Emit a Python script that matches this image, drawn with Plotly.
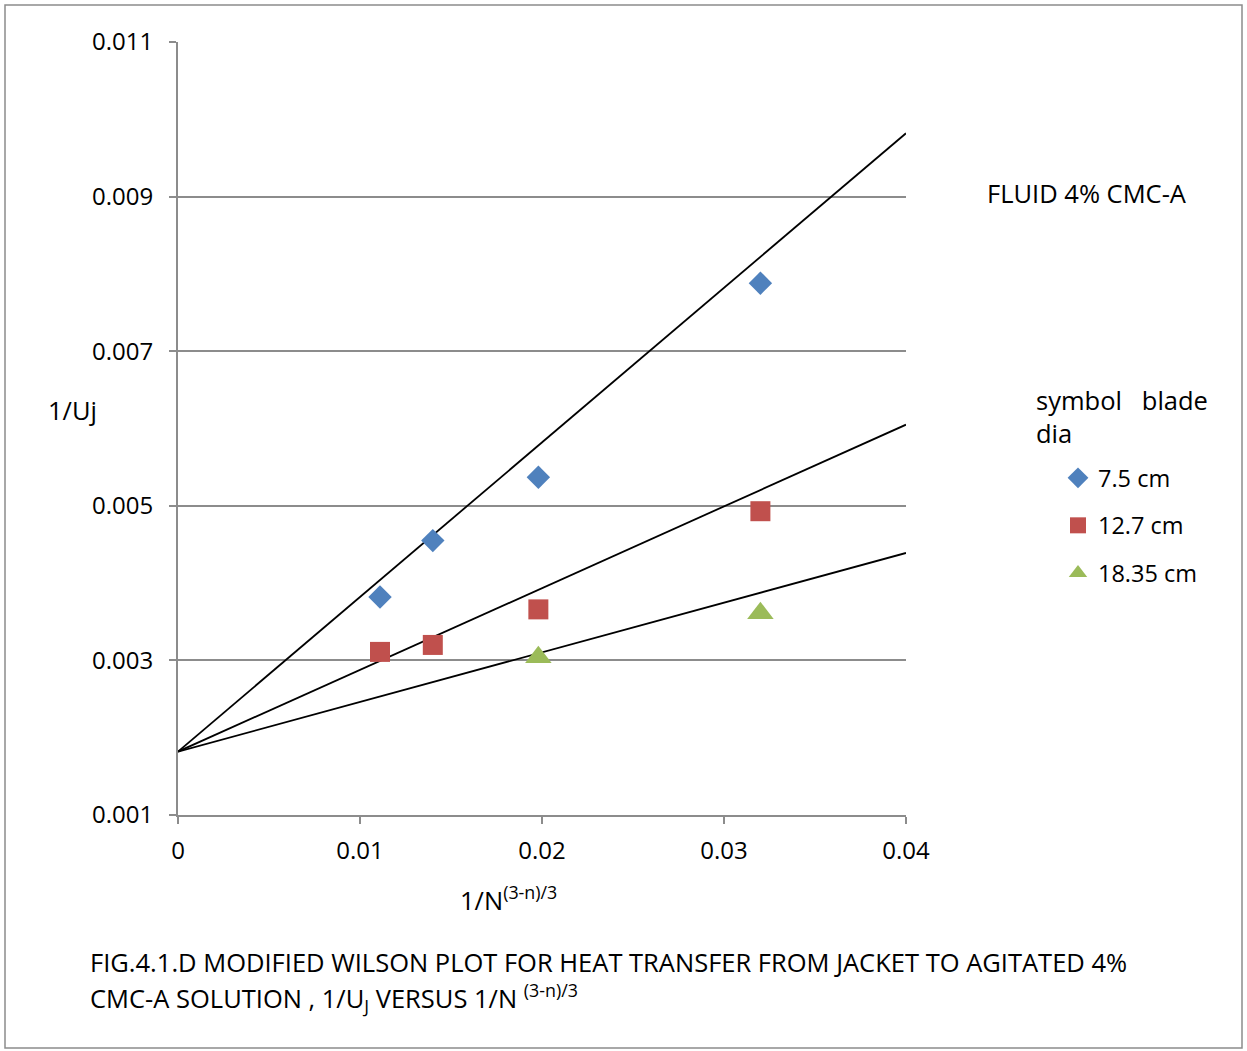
import plotly.graph_objects as go

# Modified Wilson plot: 1/Uj against 1/N^((3-n)/3), 4% CMC-A solution
blade_dia = ["7.5 cm", "12.7 cm", "18.35 cm"]

x_75 = [0.0111, 0.0140, 0.0198, 0.0320]
y_75 = [0.00382, 0.00455, 0.00537, 0.00788]

x_127 = [0.0111, 0.0140, 0.0198, 0.0320]
y_127 = [0.00311, 0.00320, 0.00366, 0.00493]

x_1835 = [0.0198, 0.0320]
y_1835 = [0.00304, 0.00361]

# straight-line fits, common intercept at x = 0, evaluated at x = 0.04
fit_x = [0.0, 0.04]
fit_intercept = 0.00182
fit_end = [0.00982, 0.00605, 0.00439]

x_ticks = [0, 0.01, 0.02, 0.03, 0.04]
x_tick_text = ["0", "0.01", "0.02", "0.03", "0.04"]
y_ticks = [0.001, 0.003, 0.005, 0.007, 0.009, 0.011]
y_tick_text = ["0.001", "0.003", "0.005", "0.007", "0.009", "0.011"]

caption_lines = [
    "FIG.4.1.D MODIFIED WILSON PLOT FOR HEAT TRANSFER FROM JACKET TO AGITATED 4%",
    "CMC-A SOLUTION , 1/U<sub>J</sub> VERSUS 1/N <sup>(3-n)/3</sup>",
]

colors = ["#4F81BD", "#C0504D", "#9BBB59"]
symbols = ["diamond", "square", "triangle-up"]
sizes = [18, 20, 23]

FONT = "'Open Sans', Lato, sans-serif"
FS_TICK = 24
FS_LEG = 23.5
FS_TEXT = 25.5
W, H = 1247, 1051
L, R, T, B = 178, 906, 42, 815

fig = go.Figure()

for end in fit_end:
    fig.add_trace(go.Scatter(
        x=fit_x, y=[fit_intercept, end], mode="lines",
        line=dict(color="black", width=1.8), showlegend=False, hoverinfo="skip"))

series = [(x_75, y_75), (x_127, y_127), (x_1835, y_1835)]
for i, (xs, ys) in enumerate(series):
    fig.add_trace(go.Scatter(
        x=xs, y=ys, mode="markers", name=blade_dia[i], legendgroup=str(i),
        marker=dict(symbol=symbols[i], size=sizes[i], color=colors[i],
                    line=dict(width=0))))

grid = "#8c8c8c"
fig.update_xaxes(range=[0, 0.04], tickvals=x_ticks, ticktext=x_tick_text,
                 showgrid=False, zeroline=False, showline=True, linecolor=grid,
                 linewidth=2, ticks="outside", ticklen=7, tickcolor=grid,
                 tickwidth=2, ticklabelstandoff=6,
                 tickfont=dict(size=FS_TICK, color="black", family=FONT))
fig.update_yaxes(range=[0.001, 0.011], tickvals=y_ticks, ticktext=y_tick_text,
                 showgrid=True, gridcolor=grid, gridwidth=2, zeroline=False,
                 showline=True, linecolor=grid, linewidth=2, ticks="outside",
                 ticklen=7, tickcolor=grid, tickwidth=2, ticklabelstandoff=11,
                 tickfont=dict(size=FS_TICK, color="black", family=FONT))


def px(x):
    return (x - L) / (R - L)


def py(y):
    return (B - y) / (B - T)


annotations = [
    dict(text="FLUID 4% CMC-A", x=px(985), y=py(193), xanchor="left", yanchor="middle"),
    dict(text="symbol   blade<br>dia", x=px(1034), y=py(416), xanchor="left",
         yanchor="middle", align="left"),
    dict(text="1/Uj", x=px(46), y=py(410), xanchor="left", yanchor="middle"),
    dict(text="1/N<sup>(3-n)/3</sup>", x=px(458), y=py(898), xanchor="left",
         yanchor="middle"),
    dict(text=caption_lines[0], x=px(88), y=py(962), xanchor="left", yanchor="middle"),
    dict(text=caption_lines[1], x=px(88), y=py(998), xanchor="left", yanchor="middle"),
]
for a in annotations:
    a.update(xref="paper", yref="paper", showarrow=False,
             font=dict(size=FS_TEXT, color="black", family=FONT))
fig.update_layout(annotations=annotations)

# outer frame around the chart
fig.add_shape(type="rect", xref="paper", yref="paper",
              x0=px(5), x1=px(1242), y0=py(1048), y1=py(5),
              line=dict(color="#8c8c8c", width=1.5), layer="below")

fig.update_layout(
    width=W, height=H,
    margin=dict(l=L, r=W - R, t=T, b=H - B),
    paper_bgcolor="white", plot_bgcolor="white",
    font=dict(family=FONT, color="black"),
    legend=dict(x=px(1058), y=py(456), xanchor="left", yanchor="top",
                font=dict(size=FS_LEG, family=FONT, color="black"),
                tracegroupgap=14, itemwidth=30, bgcolor="rgba(0,0,0,0)"),
)

fig.write_html("out.html")
